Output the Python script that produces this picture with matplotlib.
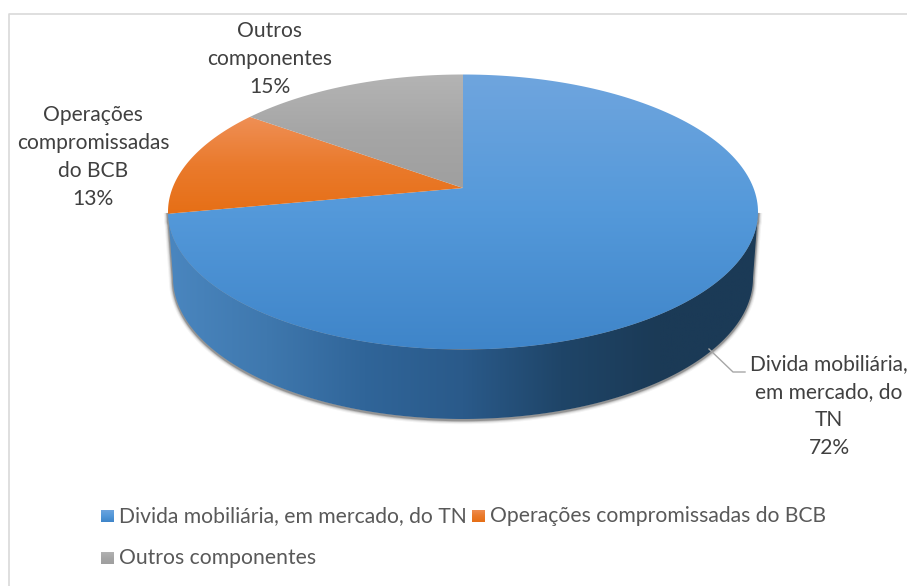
import numpy as np
import matplotlib
matplotlib.use("Agg")
import matplotlib.pyplot as plt
from matplotlib.colors import LinearSegmentedColormap as LSC
from matplotlib.patches import Polygon, Rectangle

categories = ["Divida mobiliária, em mercado, do TN", "Operações compromissadas do BCB", "Outros componentes"]
values = [72, 13, 15]
slice_labels = ["Divida mobiliária,\nem mercado, do\nTN\n72%", "Operações\ncompromissadas\ndo BCB\n13%", "Outros\ncomponentes\n15%"]
top_colors = [["#6fa5de", "#5499da", "#3f85c9"], ["#ef8f55", "#ea7a2c", "#e66f16"], ["#b4b4b4", "#a6a6a6", "#9f9f9f"]]
wall_colors = ["#4a86bf", "#3f78ae", "#306599", "#2a5a8a", "#1f4568", "#1b3a56", "#1b3a56"]

plt.rcParams["font.family"] = ["Lato", "DejaVu Sans"]
fig = plt.figure(figsize=(9.07, 5.86), dpi=100)
ax = fig.add_axes([0, 0, 1, 1])
ax.set_xlim(0, 907)
ax.set_ylim(586, 0)
ax.axis("off")

CX, CY, RX, RY = 463, 212, 295, 137.5
PERSP = 0.175
BOT_CY, BOT_RX, BOT_RY = 278, 290, 141


def project(theta):
    x, y = np.sin(theta), np.cos(theta)
    den = 1 + PERSP * y
    X = x * np.sqrt(1 - PERSP ** 2) / den
    Y = (y + PERSP) / den
    return CX + RX * X, CY - RY * Y


# side wall
t = np.linspace(0, np.pi, 300)
top_x, top_y = CX - RX * np.cos(t), CY + RY * np.sin(t)
bot_x, bot_y = CX - BOT_RX * np.cos(t), BOT_CY + BOT_RY * np.sin(t)
wall_pts = np.r_[np.c_[top_x, top_y], np.c_[bot_x, bot_y][::-1]]
for lw, alpha in [(6, 0.06), (4.5, 0.11), (3, 0.2), (1.8, 0.35)]:
    ax.add_patch(Polygon(wall_pts + [0, 1], closed=True, fc="none", ec="#444444", lw=lw, alpha=alpha, zorder=1))
wall_patch = Polygon(wall_pts, closed=True, fc="none", ec="none", zorder=2)
ax.add_patch(wall_patch)
im = ax.imshow(np.linspace(0, 1, 256)[None, :], cmap=LSC.from_list("wall", wall_colors), extent=[168, 758, 430, 200],
               aspect="auto", zorder=2)
im.set_clip_path(wall_patch)

# top faces
edges = np.r_[0, np.cumsum(values)] / sum(values) * 2 * np.pi
for i, v in enumerate(values):
    th = np.linspace(edges[i], edges[i + 1], 200)
    px, py = project(th)
    ax_pts = np.r_[[[CX, 188]], np.c_[px, py]]
    patch = Polygon(ax_pts, closed=True, fc="none", ec="none", zorder=3)
    ax.add_patch(patch)
    lo, hi = ax_pts[:, 1].min(), ax_pts[:, 1].max()
    img = ax.imshow(np.linspace(0, 1, 256)[:, None], cmap=LSC.from_list(f"t{i}", top_colors[i]),
                    extent=[160, 765, hi, lo], aspect="auto", zorder=3)
    img.set_clip_path(patch)
ax.set_xlim(0, 907)
ax.set_ylim(586, 0)

# frame
ax.plot([9, 9, 907], [586, 13.5, 13.5], color="#d9d9d9", lw=1.2, zorder=0)

# data labels
ax.plot([709, 733, 745], [349, 372, 372], color="#a6a6a6", lw=1, zorder=4)
lab = dict(ha="center", va="center", color="#404040", fontsize=15.1, linespacing=1.5, zorder=5)
ax.text(829, 406.5, slice_labels[0], **lab)
ax.text(93, 157, slice_labels[1], **lab)
ax.text(270, 59, slice_labels[2], **lab)

# legend
legend_pos = [(101, 516), (472, 516), (101, 558)]
for (x, y), name, c in zip(legend_pos, categories, top_colors):
    sq = Rectangle((x, y - 6.5), 13, 13, fc="none", ec="none", zorder=4)
    ax.add_patch(sq)
    g = ax.imshow(np.linspace(0, 1, 32)[:, None], cmap=LSC.from_list("l", c), extent=[x, x + 13, y + 6.5, y - 6.5],
                  aspect="auto", zorder=4)
    g.set_clip_path(sq)
    ax.text(x + 18, y, name, ha="left", va="center", color="#595959", fontsize=15.2, zorder=5)
ax.set_xlim(0, 907)
ax.set_ylim(586, 0)

fig.savefig("out.png", dpi=100)
